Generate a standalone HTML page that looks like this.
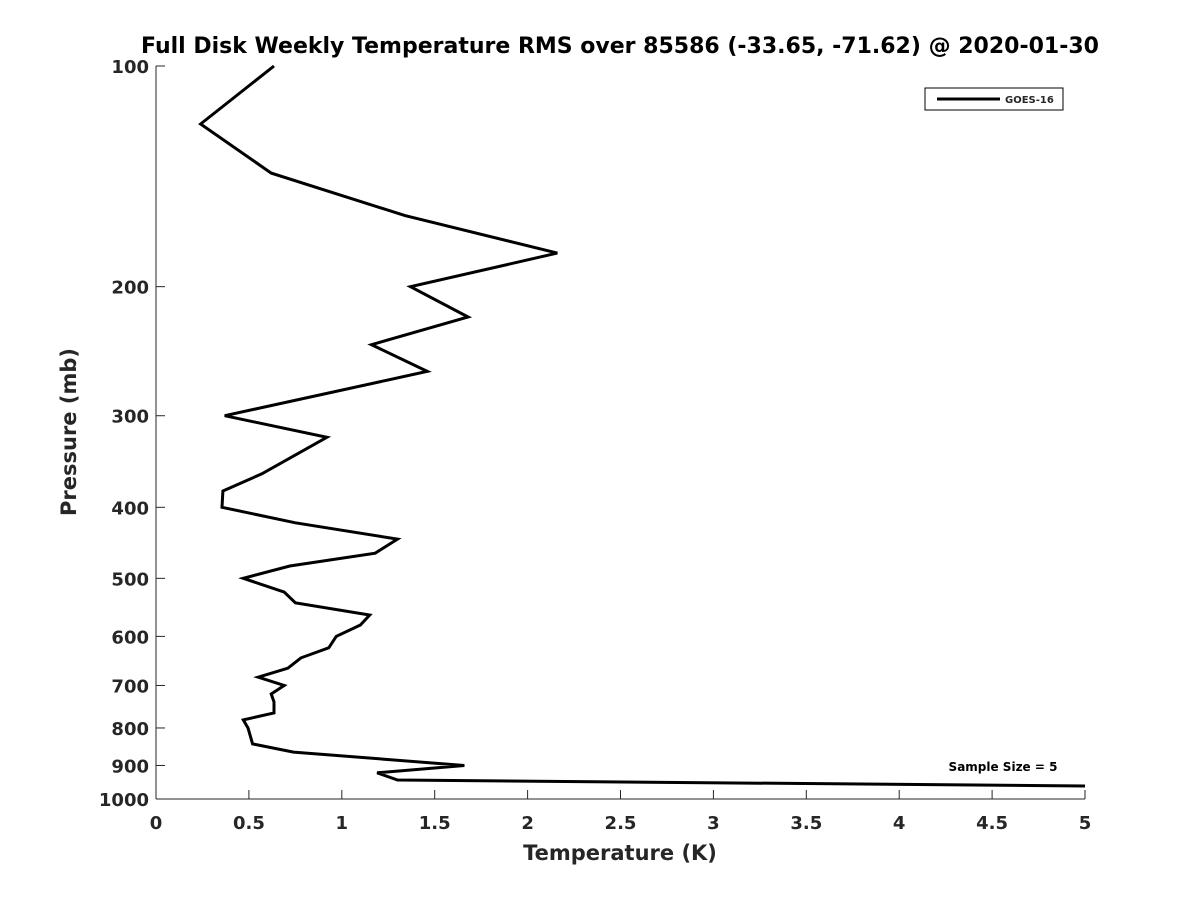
<!DOCTYPE html>
<html><head><meta charset="utf-8"><style>
body{margin:0;background:#fff;}
svg text{font-family:"DejaVu Sans","Liberation Sans",sans-serif;font-weight:bold;fill:#262626;}
</style></head><body>
<svg id="chart" width="1200" height="900" xmlns="http://www.w3.org/2000/svg">
<rect width="1200" height="900" fill="#fff"/>
<text x="620" y="53" text-anchor="middle" font-size="22" fill="#000" style="fill:#000">Full Disk Weekly Temperature RMS over 85586 (-33.65, -71.62) @ 2020-01-30</text>
<g id="axes"></g>
<path id="line" fill="none" stroke="#000" stroke-width="3" stroke-linejoin="miter"/>
<g>
<rect x="925" y="88" width="138" height="22" fill="#fff" stroke="#000" stroke-width="1"/>
<line x1="937" y1="99" x2="1000" y2="99" stroke="#000" stroke-width="3"/>
<text x="1005" y="103" font-size="10">GOES-16</text>
</g>
<text x="1003" y="771" text-anchor="middle" font-size="12" style="fill:#000">Sample Size = 5</text>
<text x="620" y="860" text-anchor="middle" font-size="21">Temperature (K)</text>
<text transform="translate(76,432) rotate(-90)" text-anchor="middle" font-size="21">Pressure (mb)</text>
</svg>
<script>
const temps=[0.635,0.24,0.62,1.34,2.16,1.37,1.68,1.16,1.46,0.37,0.92,0.57,0.36,0.355,0.75,1.30,1.18,0.72,0.47,0.69,0.75,1.15,1.10,0.97,0.93,0.78,0.71,0.55,0.69,0.62,0.635,0.635,0.47,0.495,0.52,0.74,1.66,1.19,1.30,5.0];
const pressures=[100,120,140,160,180,200,220,240,261,300,321,360,380,400,420,442,462,481,500,522,540,561,579,600,622,642,663,682,700,719,737,763,780,800,841,863,900,921,942,960];
const xTicks=[0,0.5,1,1.5,2,2.5,3,3.5,4,4.5,5];
const yTicks=[100,200,300,400,500,600,700,800,900,1000];
const X0=156,X1=1085,Y0=66,Y1=799;
function xs(v){return X0+(v-0)/(5-0)*(X1-X0);}
function ys(p){return Y0+(Math.log10(p)-2)/(3-2)*(Y1-Y0);}
const NS="http://www.w3.org/2000/svg";
const ax=document.getElementById('axes');
function mk(t,a){const e=document.createElementNS(NS,t);for(const k in a)e.setAttribute(k,a[k]);ax.appendChild(e);return e;}
let l=mk('line',{x1:X0,y1:Y0,x2:X0,y2:Y1,stroke:'#262626','stroke-width':1});


l=mk('line',{x1:X0,y1:Y1,x2:X1,y2:Y1,stroke:'#262626','stroke-width':1});


xTicks.forEach(v=>{const x=xs(v);
 const t=mk('line',{x1:x,y1:Y1,x2:x,y2:Y1-9,stroke:'#262626','stroke-width':1});
 
 
 const tx=mk('text',{x:x,y:Y1+30,'text-anchor':'middle','font-size':18});tx.textContent=String(v);
 
 });
yTicks.forEach(p=>{const y=ys(p);
 const t=mk('line',{x1:X0,y1:y,x2:X0+9,y2:y,stroke:'#262626','stroke-width':1});
 
 
 const tx=mk('text',{x:X0-7,y:y+7,'text-anchor':'end','font-size':18});tx.textContent=String(p);
 
 });
document.getElementById('line').setAttribute('d',temps.map((t,i)=>(i?'L':'M')+xs(t).toFixed(1)+','+ys(pressures[i]).toFixed(1)).join(' '));
</script>
</body></html>
